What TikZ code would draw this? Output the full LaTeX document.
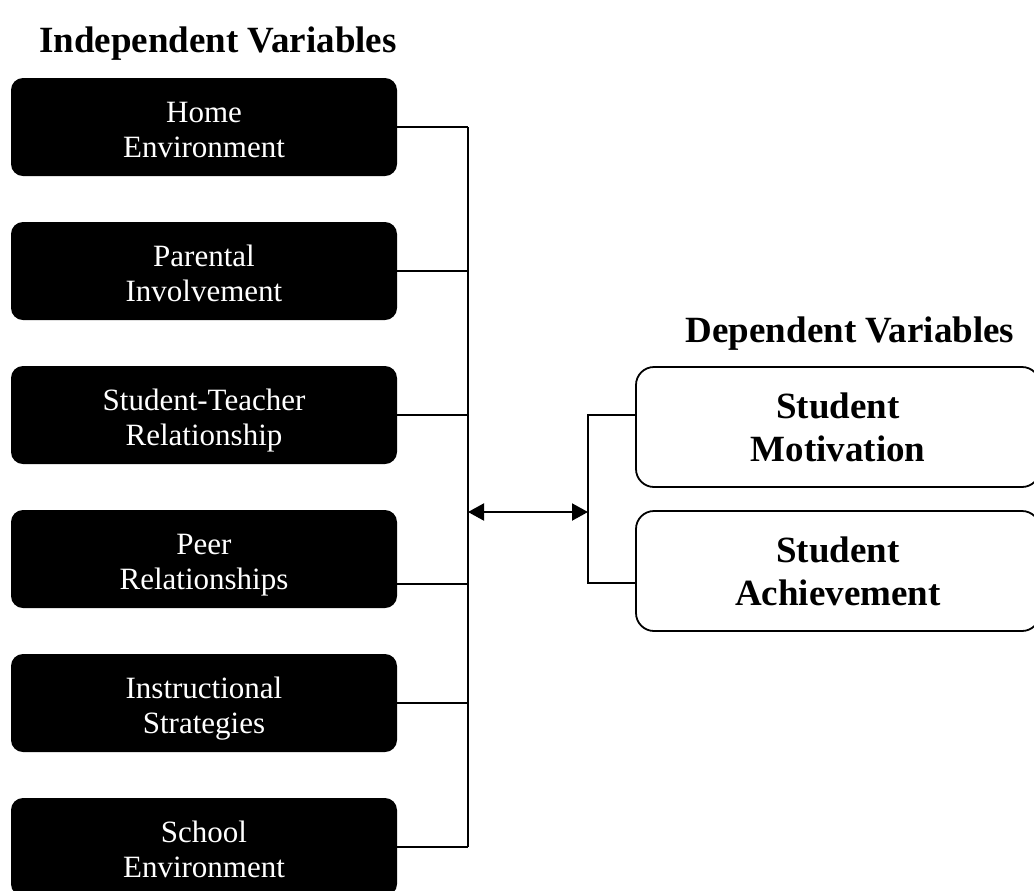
\documentclass[tikz,border=0pt]{standalone}
\usepackage{fontspec}
\setmainfont{Liberation Serif}
\usepackage{tikz}
\usetikzlibrary{arrows.meta}

\tikzset{
	ivbox/.style={fill=black, text=white, rounded corners=6pt, minimum width=193pt, minimum height=49pt, align=center, inner sep=0pt, text height=31pt, text depth=1pt, font=\fontsize{15.5}{17.5}\selectfont},
	dvbox/.style={draw=black, line width=.9pt, rounded corners=9pt, minimum width=202pt, minimum height=60pt, align=center, inner sep=0pt, font=\fontsize{18.5}{21.5}\selectfont\bfseries},
	heading/.style={anchor=base, font=\fontsize{18.5}{22}\selectfont\bfseries},
	conn/.style={draw=black, line width=1pt},
}

\begin{document}
\begin{tikzpicture}[x=0.5pt,y=-0.5pt]

	% page frame
	\useasboundingbox (0,0) rectangle (1034,890);

	% Headings
	\node[heading] (ivhead) at (218,52)  {Independent Variables};
	\node[heading] (dvhead) at (850,342) {Dependent Variables};

	% Independent variables
	\node[ivbox] (iv1) at (204,127) {Home\\Environment};
	\node[ivbox] (iv2) at (204,271) {Parental\\Involvement};
	\node[ivbox] (iv3) at (204,415) {Student-Teacher\\Relationship};
	\node[ivbox] (iv4) at (204,559) {Peer\\Relationships};
	\node[ivbox] (iv5) at (204,703) {Instructional\\Strategies};
	\node[ivbox] (iv6) at (204,847) {School\\Environment};

	% Dependent variables
	\node[dvbox] (dv1) at (838,427) {Student\\Motivation};
	\node[dvbox] (dv2) at (838,571) {Student\\Achievement};

	% Spines
	\coordinate (ltop) at (468,127);
	\coordinate (lbot) at (468,847);
	\coordinate (lmid) at (468,512);
	\coordinate (rtop) at (588,415);
	\coordinate (rbot) at (588,583);
	\coordinate (rmid) at (588,512);
	\coordinate (iv4c) at ([yshift=-12.5pt]iv4.east);

	% Connectors left
	\draw[conn] (ltop) -- (lbot);
	\draw[conn] (iv1.east) -- (iv1.east -| ltop);
	\draw[conn] (iv2.east) -- (iv2.east -| ltop);
	\draw[conn] (iv3.east) -- (iv3.east -| ltop);
	\draw[conn] (iv4c) -- (iv4c -| ltop);
	\draw[conn] (iv5.east) -- (iv5.east -| ltop);
	\draw[conn] (iv6.east) -- (iv6.east -| ltop);

	% Connectors right
	\draw[conn] (rtop -| dv1.west) -- (rtop) -- (rbot) -- (rbot -| dv2.west);

	% Arrow
	\draw[conn, {Triangle[length=8pt,width=8.5pt]}-{Triangle[length=8pt,width=8.5pt]}] (lmid) -- (rmid);

\end{tikzpicture}
\end{document}
